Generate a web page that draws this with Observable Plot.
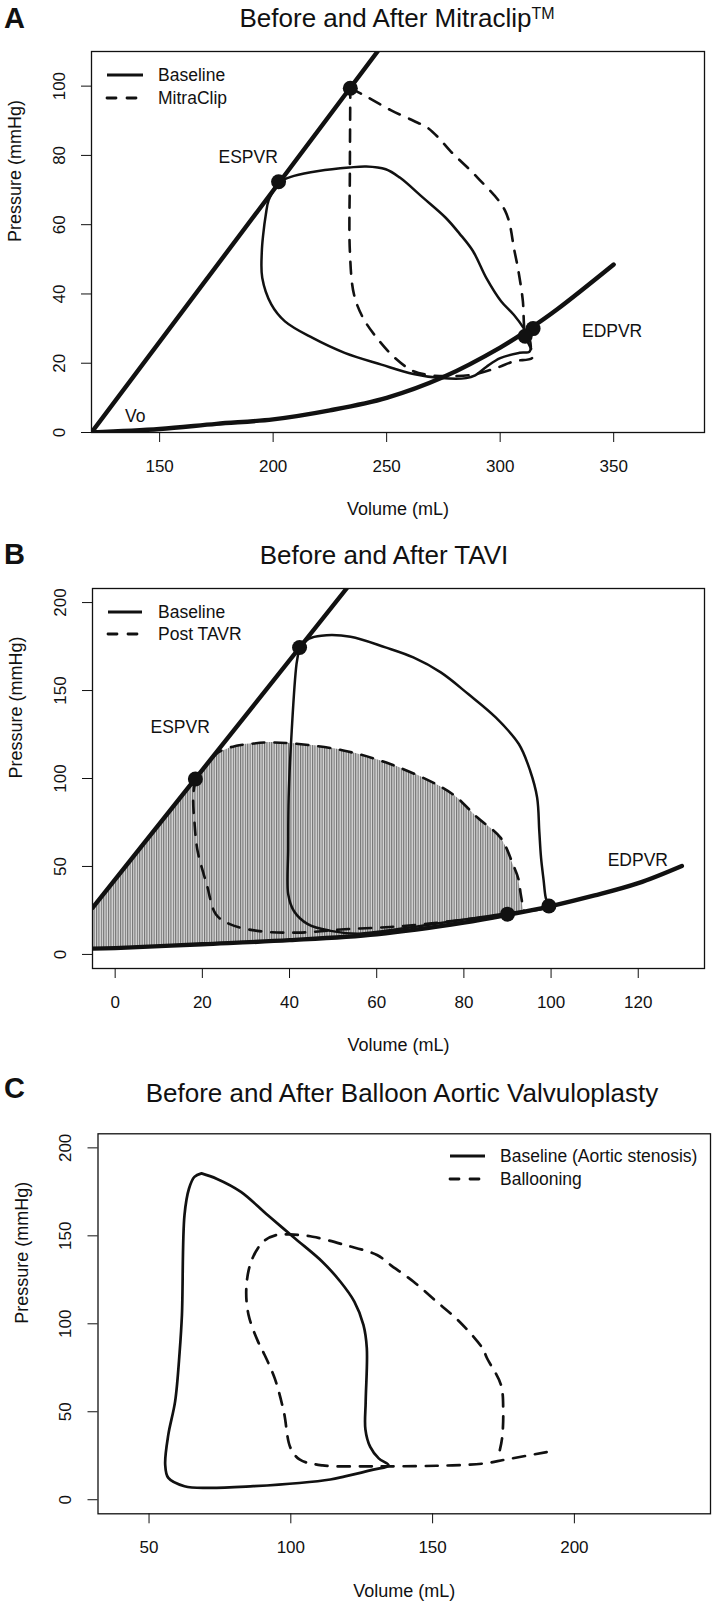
<!DOCTYPE html>
<html><head><meta charset="utf-8">
<script src="https://cdn.jsdelivr.net/npm/d3@7"></script>
<script src="https://cdn.jsdelivr.net/npm/@observablehq/plot@0.6"></script>
<style>
body{margin:0;background:#fff;font-family:"Liberation Sans",Arial,Helvetica,sans-serif;}
#root{position:relative;width:718px;height:1609px;overflow:hidden;background:#fff;}
.title{position:absolute;font-size:26px;color:#111;white-space:nowrap;transform:translate(-50%,-50%);line-height:30px;}
.title sup{font-size:16px;vertical-align:top;position:relative;top:-4px;}
.letter{position:absolute;font-size:29px;font-weight:bold;transform:translateY(-50%);line-height:32px;color:#111;}
.panel{position:absolute;left:0;}
</style></head><body><div id="root"></div>
<script>
// ---------- Panel A: Before and After Mitraclip ----------
const aXTicks = [150, 200, 250, 300, 350];
const aYTicks = [0, 20, 40, 60, 80, 100];
const aEspvrV = [120, 246];
const aEspvrP = [0, 110];
const aEdpvrV = [120, 150, 175, 200, 225, 250, 275, 300, 312, 325, 350];
const aEdpvrP = [0, 1, 2.5, 3.8, 6.4, 10, 16, 24.5, 29.5, 35.5, 48.5];
const aBaseV = [202.4, 198, 196.8, 195.6, 195, 195.2, 199.2, 205.2, 217.4, 231.5, 247.7, 261.8, 274, 285, 289, 294, 300, 308.5, 313, 313, 310.5, 306, 300.4, 294, 288, 282, 276, 266, 255.8, 249.6, 241, 233.5, 220, 209.2, 202.4];
const aBaseP = [72.4, 67, 63, 57, 52, 44.7, 37, 32.1, 27.3, 23, 19.6, 16.9, 15.7, 15.7, 16.5, 19, 21.5, 23, 23.4, 27, 30, 34, 37.9, 44.5, 52.4, 57.5, 62, 67.8, 73.6, 76, 76.8, 76.5, 75.5, 74.1, 72.4];
const aClipV = [234, 241.6, 252, 261.8, 268, 273, 278, 290, 302.2, 306.3, 308.3, 310, 310.5, 311, 314.3, 306.3, 298.2, 288, 278, 269.8, 261.8, 253.7, 245.7, 239.6, 235.6, 233.8, 233.8, 234];
const aClipP = [99.4, 96.8, 93, 90, 88, 85, 81.3, 73.6, 64, 52.4, 45.6, 37.9, 31, 28, 21.7, 20.6, 18.6, 16.7, 16.3, 16.5, 17.7, 21.5, 27.3, 33.1, 39.9, 52.4, 75, 99.4];
const aDotV = [202.4, 234, 314.5, 311];
const aDotP = [72.4, 99.4, 30, 27.8];
const aLabelText = ["ESPVR", "EDPVR", "Vo"];
const aLabelV = [189, 349.3, 139.3];
const aLabelP = [79.3, 29.2, 4.6];
const aLegend = ["Baseline", "MitraClip"];

// ---------- Panel B: Before and After TAVI ----------
const bXTicks = [0, 20, 40, 60, 80, 100, 120];
const bYTicks = [0, 50, 100, 150, 200];
const bEspvrV = [-5.2, 53.1];
const bEspvrP = [26.4, 208];
const bEdpvrV = [-5.2, 0, 20, 40, 60, 80, 90, 100, 110, 120, 130];
const bEdpvrP = [3.3, 3.6, 5.8, 8.1, 11.5, 18.1, 22.5, 27.5, 33.5, 40.5, 50.3];
const bBaseV = [42.3, 44.5, 47.3, 54, 62, 68.4, 74.7, 81, 87.3, 92.6, 95.2, 96.8, 97.3, 97.7, 98.3, 98.8, 99.5, 90, 80, 70, 62, 55.7, 49.4, 44.2, 41, 39.7, 39.7, 39.8, 40.5, 41.6, 42.3];
const bBaseP = [174.5, 179.5, 181.2, 180.6, 174.5, 168.8, 160.3, 148, 134.7, 119.6, 104.4, 89.2, 70, 55, 42, 32, 27.5, 23.4, 19.8, 16.2, 13.4, 11.8, 13.4, 17.2, 24.7, 34.2, 60, 89.2, 127, 165, 174.5];
const bPostV = [18.4, 17.9, 18.2, 18.9, 21, 23.1, 26.3, 32.6, 42.1, 52.6, 63.1, 72, 80, 90, 93.8, 93.5, 93, 92.5, 91.3, 88.4, 83.1, 78, 73.6, 63.1, 52.6, 42.1, 34.7, 30.9, 27.8, 23.6, 20.5, 18.4];
const bPostP = [99.7, 89.2, 75, 58.9, 39.9, 22.9, 17.2, 13.4, 12.4, 14.3, 15.6, 17.5, 19.8, 22.9, 25, 28, 35, 43, 51, 66.4, 77.8, 90, 96.8, 108.2, 115.8, 119.6, 120.5, 119.6, 118.6, 114.8, 106, 99.7];
const bHatchV = [-5.2, 0, 10, 18.4, 22.5, 27.8, 30.9, 34.7, 42.1, 52.6, 63.1, 73.6, 78, 83.1, 88.4, 91.3, 92.5, 93, 93.5, 93.8];
const bHatchTop = [26.4, 42.1, 73.4, 99.7, 112, 118.6, 119.6, 120.5, 119.6, 115.8, 108.2, 96.8, 90, 77.8, 66.4, 51, 43, 35, 28, 24.5];
const bHatchBottom = [3.3, 3.6, 4.8, 5.6, 6.0, 6.6, 7.0, 7.6, 8.5, 10.3, 12.3, 15.4, 17.1, 19.1, 21.4, 22.8, 23.2, 23.4, 23.6, 23.8];
const bDotV = [42.3, 18.4, 99.5, 90];
const bDotP = [174.5, 99.7, 27.5, 22.9];
const bLabelText = ["ESPVR", "EDPVR"];
const bLabelV = [14.9, 119.9];
const bLabelP = [129, 53.2];
const bLegend = ["Baseline", "Post TAVR"];

// ---------- Panel C: Before and After Balloon Aortic Valvuloplasty ----------
const cXTicks = [50, 100, 150, 200];
const cYTicks = [0, 50, 100, 150, 200];
const cBaseV = [68.5, 73.8, 82.4, 91.8, 101.5, 111.1, 117.5, 122.4, 125.6, 126.8, 126.4, 126.3, 128, 131, 134.5, 129.1, 119.1, 113.9, 103, 86.8, 70.6, 62.5, 56.8, 55.7, 56.8, 59.2, 60.8, 61.6, 62.5, 64.1, 66, 68.5];
const cBaseP = [185.5, 182.5, 175, 161.8, 148.5, 135.3, 123.9, 112.6, 99.4, 86.1, 55.9, 40, 30, 23.5, 19.5, 17.1, 13.3, 11.5, 9.5, 7.7, 6.7, 7.7, 12.4, 20, 37, 55.9, 84.2, 105, 161.8, 176.9, 183.5, 185.5];
const cBalV = [190.2, 175.7, 167.6, 151.4, 135.2, 127.2, 111.2, 103.2, 99.9, 97.5, 94.3, 90.2, 88.4, 85.1, 84.3, 86, 90.2, 94.8, 99.7, 107.7, 119.1, 130.4, 135.2, 143.3, 151.4, 159.5, 167.6, 169.2, 174.1, 174.9, 174.5, 173.6];
const cBalP = [27.1, 22.8, 20.5, 19.3, 19, 19, 19.5, 22.8, 29.4, 50.2, 69.1, 84.2, 90, 105, 120.1, 135.3, 146.6, 150.4, 150.8, 149.5, 144.8, 139.1, 133.4, 123.9, 112.6, 101.2, 86.1, 80.4, 65.3, 50.2, 35, 27.5];
const cLegend = ["Baseline (Aortic stenosis)", "Ballooning"];

// ---------- helpers ----------
const FONT = '"Liberation Sans", Arial, Helvetica, sans-serif';
const W = 718;
const DASH = "12,10";
const idx = a => d3.range(a.length);

function series(V, P, opts) {
  return Plot.line(idx(V), {x: i => V[i], y: i => P[i], curve: "catmull-rom", stroke: "#111", strokeLinejoin: "round", strokeLinecap: "round", clip: true, ...opts});
}

function makePanel(cfg) {
  const chart = Plot.plot({
    width: W, height: cfg.height,
    marginLeft: cfg.ml, marginRight: cfg.mr, marginTop: cfg.mt, marginBottom: cfg.mb,
    x: {domain: cfg.xDomain, axis: null},
    y: {domain: cfg.yDomain, axis: null},
    style: {fontFamily: FONT, fontSize: "17px", background: "white", color: "#111", overflow: "visible"},
    marks: [
      ...cfg.marks,
      Plot.frame({stroke: "#111", strokeWidth: 1.3}),
      Plot.axisX({ticks: cfg.xTicks, tickSize: 10, tickPadding: 17, fontSize: 17, tickFormat: d => String(d), stroke: "#111"}),
      Plot.axisY({ticks: cfg.yTicks, tickSize: 10, tickFormat: () => "", stroke: "#111"}),
      Plot.text(cfg.yTicks, {y: d => d, frameAnchor: "left", dx: -32, rotate: -90, text: d => String(d), fontSize: 17, textAnchor: "middle", lineAnchor: "middle", fill: "#111"}),
      Plot.text(["Volume (mL)"], {frameAnchor: "bottom", dy: 77, fontSize: 18, lineAnchor: "middle", fill: "#111"}),
      Plot.text(["Pressure (mmHg)"], {frameAnchor: "left", dx: -76, rotate: -90, fontSize: 18, lineAnchor: "middle", fill: "#111"})
    ]
  });
  chart.classList.add("panel");
  chart.style.top = cfg.top + "px";
  // legend (decoration, in pixel space)
  const svg = d3.select(chart);
  const lg = svg.append("g").attr("font-family", FONT).attr("font-size", 17.5).attr("fill", "#111").attr("text-anchor", "start");
  cfg.legend.forEach((name, k) => {
    const y = cfg.legendY[k];
    lg.append("line").attr("x1", cfg.legendX[0]).attr("x2", cfg.legendX[1]).attr("y1", y).attr("y2", y)
      .attr("stroke", "#111").attr("stroke-width", 2.8)
      .attr("stroke-dasharray", k === 1 ? "9,11" : null).attr("stroke-linecap", k === 1 ? "round" : "butt");
    lg.append("text").attr("x", cfg.legendX[2]).attr("y", y).attr("dy", "0.35em").attr("text-anchor", "start").text(name);
  });
  return chart;
}

const root = document.getElementById("root");
function addTitle(html, cx, cy) {
  const d = document.createElement("div"); d.className = "title"; d.innerHTML = html;
  d.style.left = cx + "px"; d.style.top = cy + "px"; root.appendChild(d);
}
function addLetter(t, cy) {
  const d = document.createElement("div"); d.className = "letter"; d.textContent = t;
  d.style.left = "4px"; d.style.top = cy + "px"; root.appendChild(d);
}

// ---------- Panel A ----------
const panelA = makePanel({
  top: 40, height: 490, ml: 91, mr: 14, mt: 11, mb: 98,
  xDomain: [120, 390], yDomain: [0, 110], xTicks: aXTicks, yTicks: aYTicks,
  legend: aLegend, legendX: [107, 143, 158], legendY: [35, 58],
  marks: [
    series(aEspvrV, aEspvrP, {curve: "linear", strokeWidth: 4.4}),
    series(aEdpvrV, aEdpvrP, {strokeWidth: 4.4}),
    series(aBaseV, aBaseP, {strokeWidth: 2.5}),
    series(aClipV, aClipP, {strokeWidth: 2.6, strokeDasharray: DASH}),
    Plot.dot(idx(aDotV), {x: i => aDotV[i], y: i => aDotP[i], r: 7.5, fill: "#111"}),
    Plot.text(idx(aLabelText), {x: i => aLabelV[i], y: i => aLabelP[i], text: i => aLabelText[i], fontSize: 17.5, fill: "#111"})
  ]
});
root.appendChild(panelA);
addTitle('Before and After Mitraclip<sup>TM</sup>', 397, 18);
addLetter("A", 18);

// ---------- Panel B ----------
const panelB = makePanel({
  top: 575, height: 493, ml: 92, mr: 14, mt: 13, mb: 100,
  xDomain: [-5.2, 135.2], yDomain: [-8, 208], xTicks: bXTicks, yTicks: bYTicks,
  legend: bLegend, legendX: [108, 142, 158], legendY: [37, 59],
  marks: [
    Plot.areaY(idx(bHatchV), {x: i => bHatchV[i], y1: i => bHatchBottom[i], y2: i => bHatchTop[i], curve: "catmull-rom", fill: "url(#vhatch)", clip: true}),
    series(bEspvrV, bEspvrP, {curve: "linear", strokeWidth: 4.4}),
    series(bEdpvrV, bEdpvrP, {strokeWidth: 4.4}),
    series(bBaseV, bBaseP, {strokeWidth: 2.5}),
    series(bPostV, bPostP, {strokeWidth: 2.6, strokeDasharray: DASH}),
    Plot.dot(idx(bDotV), {x: i => bDotV[i], y: i => bDotP[i], r: 7.5, fill: "#111"}),
    Plot.text(idx(bLabelText), {x: i => bLabelV[i], y: i => bLabelP[i], text: i => bLabelText[i], fontSize: 17.5, fill: "#111"})
  ]
});
// vertical-line hatch pattern
const defs = d3.select(panelB).insert("defs", ":first-child");
const pat = defs.append("pattern").attr("id", "vhatch").attr("patternUnits", "userSpaceOnUse").attr("width", 2.4).attr("height", 10);
pat.append("rect").attr("width", 2.4).attr("height", 10).attr("fill", "#dadada");
pat.append("rect").attr("width", 1.1).attr("height", 10).attr("fill", "#707070");
root.appendChild(panelB);
addTitle('Before and After TAVI', 384, 555);
addLetter("B", 554);

// ---------- Panel C ----------
const panelC = makePanel({
  top: 1118, height: 491, ml: 97.5, mr: 8, mt: 15.3, mb: 95.7,
  xDomain: [32, 248], yDomain: [-8, 208], xTicks: cXTicks, yTicks: cYTicks,
  legend: cLegend, legendX: [450, 485, 500], legendY: [38, 61],
  marks: [
    series(cBaseV, cBaseP, {strokeWidth: 2.7}),
    series(cBalV, cBalP, {strokeWidth: 2.7, strokeDasharray: DASH})
  ]
});
root.appendChild(panelC);
addTitle('Before and After Balloon Aortic Valvuloplasty', 402, 1093);
addLetter("C", 1088);
</script></body></html>
